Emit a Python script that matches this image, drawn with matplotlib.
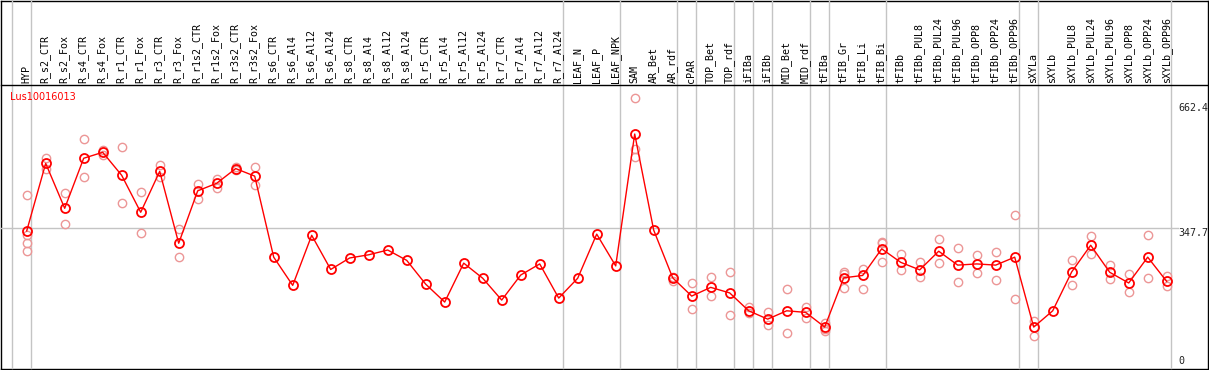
import numpy as np
import matplotlib
matplotlib.use('Agg')
import matplotlib.pyplot as plt

gene = 'Lus10016013'

samples = ['HYP', 'R_s2_CTR', 'R_s2_Fox', 'R_s4_CTR', 'R_s4_Fox', 'R_r1_CTR', 'R_r1_Fox',
           'R_r3_CTR', 'R_r3_Fox', 'R_r1s2_CTR', 'R_r1s2_Fox', 'R_r3s2_CTR', 'R_r3s2_Fox',
           'R_s6_CTR', 'R_s6_Al4', 'R_s6_Al12', 'R_s6_Al24', 'R_s8_CTR', 'R_s8_Al4',
           'R_s8_Al12', 'R_s8_Al24', 'R_r5_CTR', 'R_r5_Al4', 'R_r5_Al12', 'R_r5_Al24',
           'R_r7_CTR', 'R_r7_Al4', 'R_r7_Al12', 'R_r7_Al24', 'LEAF_N', 'LEAF_P', 'LEAF_NPK',
           'SAM', 'AR_Bet', 'AR_rdf', 'cPAR', 'TOP_Bet', 'TOP_rdf', 'iFIBa', 'iFIBb',
           'MID_Bet', 'MID_rdf', 'tFIBa', 'tFIB_Gr', 'tFIB_Li', 'tFIB_Bi', 'tFIBb',
           'tFIBb_PUL8', 'tFIBb_PUL24', 'tFIBb_PUL96', 'tFIBb_OPP8', 'tFIBb_OPP24',
           'tFIBb_OPP96', 'sXYLa', 'sXYLb', 'sXYLb_PUL8', 'sXYLb_PUL24', 'sXYLb_PUL96',
           'sXYLb_OPP8', 'sXYLb_OPP24', 'sXYLb_OPP96']

# mean expression per sample
means = [340, 510, 397, 523, 538, 480, 387, 490, 309, 441, 460, 497, 478,
         274, 203, 329, 243, 272, 280, 292, 266, 206, 161, 259, 221, 166, 229, 257, 171,
         221, 332, 252, 584, 342, 222, 176, 198, 184, 139, 118, 139, 135, 98,
         222, 228, 295, 261, 242, 289, 254, 257, 254, 274, 98, 139, 237, 304, 236,
         209, 274, 213]

# individual replicates (only the ones visible off the mean)
replicates = [[430, 330, 309, 290], [524, 495], [435, 357], [571, 475], [544, 532],
              [551, 410], [437, 334], [506, 477], [344, 274], [457, 421], [472, 448],
              [500, 493], [501, 455],
              [], [], [], [], [], [], [], [], [], [], [], [], [], [], [], [], [], [], [],
              [674, 546, 525], [], [225, 213], [209, 144], [224, 176], [236, 128],
              [148, 133], [136, 102], [193, 83], [149, 122], [108, 89, 92],
              [236, 196, 232], [245, 193], [313, 309, 262], [282, 242],
              [262, 223], [320, 259], [297, 212], [280, 233], [287, 217], [380, 169],
              [114, 75], [], [266, 203], [327, 281], [254, 220], [232, 186], [330, 221],
              [227, 201]]

# group separators (drawn just right of these sample indices)
separators = [-1, 0, 28, 31, 34, 35, 37, 38, 39, 41, 42, 45, 52, 53, 60]

yticks = [0, 347.7, 662.4]

W, H = 1209, 370
fig = plt.figure(figsize=(W / 100, H / 100), dpi=100)

# outer frame
bg = fig.add_axes([0.5 / W, 1.5 / H, 1207 / W, 368 / H])
bg.set_xticks([])
bg.set_yticks([])
for s in bg.spines.values():
    s.set_linewidth(1)
    s.set_color('black')

ax = fig.add_axes([1 / W, 2 / H, 1206 / W, 283 / H])
ax.patch.set_alpha(0)
ax.set_xlim((1 - 26.7) / 19, (1207 - 26.7) / 19)
ax.set_ylim(-5.0, 707.4)
ax.set_xticks([])
ax.set_yticks([])
for name, s in ax.spines.items():
    s.set_visible(name == 'top')
ax.spines['top'].set_linewidth(1)

x = np.arange(len(samples))
mono = 'DejaVu Sans Mono'
grid_c = '#c4c4c4'

for sep in separators:
    ax.axvline(sep + 4 / 19, ymin=0, ymax=368 / 283, color=grid_c, lw=1, clip_on=False, zorder=1)

ax.axhline(347.7, xmin=0, xmax=(1178 - 1) / 1206, color=grid_c, lw=1, zorder=1)

for i, reps in enumerate(replicates):
    if reps:
        ax.plot([i] * len(reps), reps, 'o', mfc='none', mec='#ec9696', mew=1.0, ms=6.0, zorder=2)

ax.plot(x, means, '-', color='red', lw=1, marker='o', mfc='none', mec='red', mew=1.3, ms=6.5, zorder=3)

for i, name in enumerate(samples):
    ax.text(i - 0.03, 1.008, name, transform=ax.get_xaxis_transform(), rotation=90,
            ha='center', va='bottom', fontsize=7.2, family=mono, clip_on=False)

ax.text(9 / 1206, 0.958, gene, transform=ax.transAxes, color='red', fontsize=7,
        family='DejaVu Sans', ha='left', va='center')

tx = (1178 - 26.7) / 19
for v in yticks:
    ax.text(tx, v, f'{v:g}', ha='left', va='bottom' if v == 0 else 'top',
            fontsize=7.2, family=mono, color='#222222')

fig.savefig('out.png', dpi=100)
